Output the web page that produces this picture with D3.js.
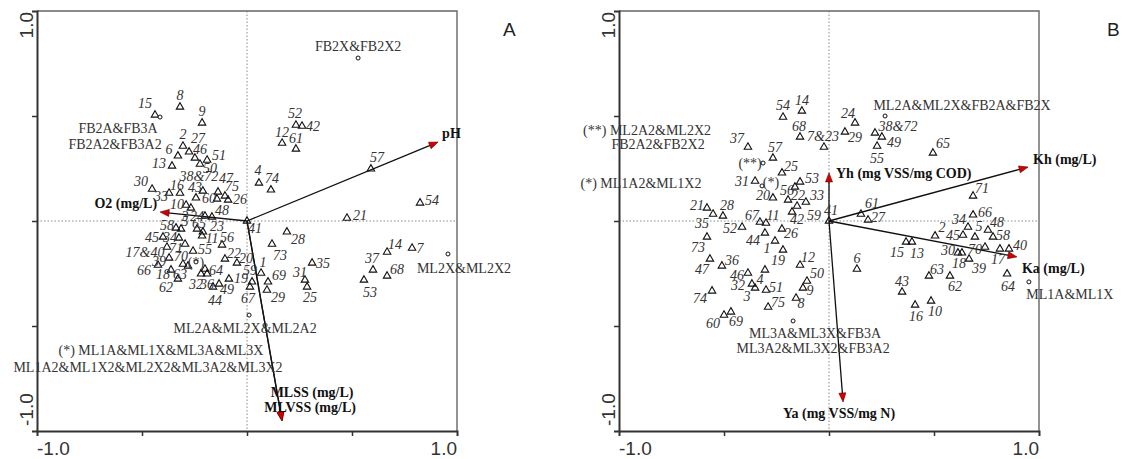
<!DOCTYPE html>
<html>
<head>
<meta charset="utf-8">
<script src="https://cdn.jsdelivr.net/npm/d3@7"></script>
<style>
  body { margin: 0; background: #fff; }
  svg { display: block; }
</style>
</head>
<body>
<svg id="chart" width="1125" height="459"></svg>
<script>
// ---------------- Panel A: sample scores (axis 1, axis 2) ----------------
const siteIdsA = ["15","8","9","2","27","6","46","51","50","13","30","33","16","38&72","43","47","75","26","60","10","3","48","24","58","5","65","23","45","34","11","56","17&40","71","55","22","39","70","66","64","18","63","32","36","49","44","19","62","20","59","67","1","69","29","73","28","35","31","25","37","14","7","68","53","57","54","21","52","42","12","61","4","74","41"];
const siteXA = [-0.438,-0.319,-0.214,-0.305,-0.276,-0.329,-0.248,-0.190,-0.224,-0.357,-0.452,-0.371,-0.319,-0.210,-0.243,-0.138,-0.105,-0.090,-0.143,-0.290,-0.267,-0.167,-0.200,-0.338,-0.314,-0.238,-0.210,-0.400,-0.324,-0.214,-0.119,-0.381,-0.295,-0.257,-0.105,-0.371,-0.305,-0.424,-0.200,-0.362,-0.281,-0.219,-0.190,-0.133,-0.162,-0.086,-0.329,-0.048,0.024,0.014,0.067,0.100,0.095,0.119,0.190,0.310,0.276,0.286,0.600,0.667,0.786,0.667,0.557,0.590,0.824,0.476,0.233,0.262,0.167,0.233,0.057,0.114,0];
const siteYA = [0.505,0.543,0.467,0.357,0.329,0.310,0.300,0.290,0.271,0.262,0.152,0.133,0.133,0.143,0.110,0.138,0.119,0.100,0.105,0.076,0.062,0.019,0.024,-0.033,-0.038,-0.038,-0.052,-0.076,-0.081,-0.071,-0.114,-0.124,-0.110,-0.143,-0.181,-0.176,-0.205,-0.210,-0.229,-0.233,-0.214,-0.252,-0.252,-0.300,-0.314,-0.276,-0.276,-0.200,-0.290,-0.314,-0.248,-0.290,-0.329,-0.110,-0.052,-0.200,-0.281,-0.314,-0.233,-0.148,-0.129,-0.262,-0.281,0.248,0.086,0.014,0.457,0.452,0.371,0.343,0.181,0.148,0];

// Panel A: treatment groups
const groupNamesA = ["FB2A&FB3A|FB2A2&FB3A2","FB2X&FB2X2","ML2X&ML2X2","ML2A&ML2X&ML2A2","(*)|(*) ML1A&ML1X&ML3A&ML3X|ML1A2&ML1X2&ML2X2&ML3A2&ML3X2"];
const groupXA = [-0.414,0.529,0.957,0.010,-0.243];
const groupYA = [0.495,0.776,-0.157,-0.448,-0.195];

// Panel A: environmental variables
const varNamesA = ["pH","O2 (mg/L)","MLSS (mg/L)","MLVSS (mg/L)"];
const varXA = [0.910,-0.414,0.167,0.167];
const varYA = [0.376,0.043,-0.952,-0.952];

// ---------------- Panel B: sample scores ----------------
const siteIdsB = ["54","14","68","7&23","37","57","25","31","53","56","20","22","33","59","42","21","35","28","52","67","11","44","26","1","19","73","47","36","46","4","32","3","51","74","75","60","69","12","50","9","8","41","24","29","38&72","49","55","65","71","61","27","34","66","2","45","5","48","58","15","13","30","18","70","39","17","40","64","6","63","62","43","16","10"];
const siteXB = [-0.219,-0.129,-0.138,-0.024,-0.386,-0.267,-0.224,-0.352,-0.138,-0.162,-0.267,-0.195,-0.110,-0.152,-0.176,-0.581,-0.552,-0.505,-0.414,-0.329,-0.300,-0.305,-0.224,-0.257,-0.219,-0.581,-0.567,-0.510,-0.386,-0.305,-0.367,-0.352,-0.300,-0.557,-0.290,-0.500,-0.467,-0.138,-0.105,-0.124,-0.157,0,0.124,0.076,0.219,0.252,0.229,0.495,0.686,0.152,0.186,0.662,0.686,0.505,0.638,0.695,0.757,0.781,0.367,0.395,0.614,0.633,0.743,0.667,0.814,0.857,0.848,0.133,0.476,0.576,0.348,0.410,0.486];
const siteYB = [0.495,0.524,0.400,0.352,0.352,0.300,0.229,0.190,0.186,0.162,0.110,0.100,0.090,0.071,0.043,0.062,0.033,0.024,-0.029,-0.005,-0.010,-0.057,-0.038,-0.095,-0.138,-0.076,-0.181,-0.214,-0.248,-0.233,-0.300,-0.319,-0.329,-0.333,-0.410,-0.448,-0.433,-0.210,-0.286,-0.319,-0.367,0,0.467,0.424,0.419,0.400,0.357,0.324,0.119,0.033,0.005,-0.029,0.029,-0.071,-0.067,-0.076,-0.043,-0.076,-0.100,-0.100,-0.152,-0.152,-0.124,-0.181,-0.133,-0.133,-0.252,-0.229,-0.262,-0.262,-0.338,-0.400,-0.381];

// Panel B: treatment groups
const groupNamesB = ["ML2A&ML2X&FB2A&FB2X","ML1A&ML1X","ML3A&ML3X&FB3A|ML3A2&ML3X2&FB3A2","(**)|(**) ML2A2&ML2X2|FB2A2&FB2X2","(*)|(*) ML1A2&ML1X2"];
const groupXB = [0.267,0.952,-0.171,-0.314,-0.319];
const groupYB = [0.500,-0.290,-0.476,0.276,0.167];

// Panel B: kinetic parameters
const varNamesB = ["Yh (mg VSS/mg COD)","Kh (mg/L)","Ka (mg/L)","Ya (mg VSS/mg N)"];
const varXB = [0,0.948,0.895,0.067];
const varYB = [0.229,0.257,-0.171,-0.862];

// Axis
const axisDomain = [-1, 1];
const minorTicks = [-0.5, 0, 0.5];
const endTickLabels = ["-1.0", "1.0"];

// ---------------- label placement (pixel offsets from the mark) ----------------
const siteLabelOffsetA = {
  "15":[-10,-12],"8":[0,-12],"9":[0,-12],"2":[0,-12],"27":[9,-14],"6":[-9,-7],"46":[5,-9],"51":[12,-5],
  "50":[10,4],"13":[-13,-3],"30":[-11,-8],"33":[-8,3],"16":[-3,-8],"38&72":[-4,-15],"43":[-1,-11],
  "47":[8,-14],"75":[7,-10],"26":[12,-1],"60":[-8,-1],"10":[-9,-1],"3":[-6,8],"48":[10,-7],"24":[-8,0],
  "58":[-9,-3],"5":[4,-8],"65":[2,-6],"23":[14,-6],"45":[-11,0],"34":[-9,-1],"11":[10,2],"56":[5,-8],
  "17&40":[-22,5],"71":[-9,4],"55":[12,-2],"22":[9,-6],"39":[-10,3],"70":[-2,-8],"66":[-14,5],"64":[11,1],
  "18":[-8,4],"63":[-8,8],"32":[-5,10],"36":[0,10],"49":[8,5],"44":[2,13],"19":[12,-1],"62":[-12,8],
  "20":[9,-5],"59":[-2,-12],"67":[-2,11],"1":[2,-11],"69":[11,-7],"29":[11,7],"73":[8,11],"28":[11,7],
  "35":[11,0],"31":[-5,-8],"25":[3,10],"37":[-1,-12],"14":[8,-8],"7":[8,0],"68":[10,-7],"53":[6,12],
  "57":[6,-12],"54":[12,-3],"21":[13,-3],"52":[-1,-12],"42":[11,0],"12":[0,-11],"61":[0,-11],"4":[-1,-13],
  "74":[1,-12],"41":[8,7]
};
const siteLabelOffsetB = {
  "54":[0,-12],"14":[0,-11],"68":[-1,-11],"7&23":[-1,-11],"37":[-11,-9],"57":[2,-11],"25":[9,-7],"31":[-13,0],
  "53":[12,-4],"56":[-8,3],"20":[-10,-3],"22":[10,-5],"33":[11,-7],"59":[17,9],"42":[5,7],"21":[-10,-3],
  "35":[-11,9],"28":[4,-11],"52":[-12,1],"67":[-8,-7],"11":[7,-8],"44":[-12,7],"26":[9,4],"1":[-8,7],
  "19":[-5,10],"73":[-9,10],"47":[-8,10],"36":[10,-6],"46":[-11,2],"4":[-5,9],"32":[-14,1],"3":[-8,8],
  "51":[10,-3],"74":[-12,7],"75":[10,-5],"60":[-11,8],"69":[5,9],"12":[8,-8],"50":[10,-8],"9":[7,2],
  "8":[5,5],"41":[2,-11],"24":[-7,-10],"29":[10,5],"38&72":[23,-7],"49":[12,5],"55":[0,12],"65":[10,-10],
  "71":[9,-8],"61":[11,-11],"27":[10,-3],"34":[-9,-8],"66":[12,-3],"2":[7,-9],"45":[-10,0],"5":[4,-11],
  "48":[9,-8],"58":[10,-2],"15":[-9,10],"13":[5,11],"30":[-10,-3],"18":[-3,10],"70":[-10,2],"39":[10,9],
  "17":[-2,10],"40":[11,-4],"64":[1,12],"6":[0,-11],"63":[8,-7],"62":[5,10],"43":[0,-11],"16":[1,11],"10":[4,10]
};
const groupLabelOffsetA = [
  [[-42,11],[-45,27]], [[0,-12]], [[16,14]], [[-4,13]], [[0,0],[-35,88],[-48,105]]
];
const groupLabelOffsetB = [
  [[77,-11]], [[41,12]], [[22,12],[20,27]], [[-13,0],[-116,-33],[-105,-19]], [[9,-4],[-121,-3]]
];
// [anchor, dx, dy] for the variable names (baseline position)
const varLabelPlaceA = [["start",4,-4],["end",-3,-4],["middle",30,-24],["middle",28,-9]];
const varLabelPlaceB = [["start",7,5],["start",5,-3],["start",5,16],["middle",-4,16]];

// ---------------- drawing ----------------
const svg = d3.select("#chart");
const SERIF = "'Liberation Serif','Times New Roman',serif";
const SANS = "'Liberation Sans',Arial,sans-serif";
const SIZE = 420, TOP = 11;

const panels = [
  { letter: "A", left: 37, letterX: 503,
    ids: siteIdsA, sx: siteXA, sy: siteYA, offs: siteLabelOffsetA,
    gNames: groupNamesA, gx: groupXA, gy: groupYA, gOffs: groupLabelOffsetA,
    vNames: varNamesA, vx: varXA, vy: varYA, vPlace: varLabelPlaceA },
  { letter: "B", left: 619, letterX: 1107,
    ids: siteIdsB, sx: siteXB, sy: siteYB, offs: siteLabelOffsetB,
    gNames: groupNamesB, gx: groupXB, gy: groupYB, gOffs: groupLabelOffsetB,
    vNames: varNamesB, vx: varXB, vy: varYB, vPlace: varLabelPlaceB }
];

panels.forEach(p => {
  const x = d3.scaleLinear().domain(axisDomain).range([p.left, p.left + SIZE]);
  const y = d3.scaleLinear().domain(axisDomain).range([TOP + SIZE, TOP]);
  const g = svg.append("g");

  // zero reference lines
  g.append("line").attr("x1", x(0)).attr("x2", x(0)).attr("y1", y(1)).attr("y2", y(-1))
    .attr("stroke", "#8a8a8a").attr("stroke-width", 1).attr("stroke-dasharray", "1.5,2");
  g.append("line").attr("x1", x(-1)).attr("x2", x(1)).attr("y1", y(0)).attr("y2", y(0))
    .attr("stroke", "#8a8a8a").attr("stroke-width", 1).attr("stroke-dasharray", "1.5,2");

  // frame: light top/right, dark bottom/left
  g.append("path").attr("d", `M${x(-1)},${y(1)}H${x(1)}V${y(-1)}`)
    .attr("fill", "none").attr("stroke", "#666").attr("stroke-width", 1.4);

  const xAxis = d3.axisBottom(x).tickValues(minorTicks).tickSize(5).tickFormat("");
  const yAxis = d3.axisLeft(y).tickValues(minorTicks).tickSize(5).tickFormat("");
  const gx = g.append("g").attr("transform", `translate(0,${y(-1)})`).call(xAxis);
  const gy = g.append("g").attr("transform", `translate(${x(-1)},0)`).call(yAxis);
  [gx, gy].forEach(a => {
    a.select(".domain").attr("stroke", "#333").attr("stroke-width", 2);
    a.selectAll(".tick line").attr("stroke", "#333").attr("stroke-width", 1.5);
  });

  // end labels on the axes
  const tickStyle = t => t.attr("font-family", SANS).attr("font-size", 19).attr("fill", "#333");
  g.append("text").attr("x", x(-1)).attr("y", y(-1) + 24).attr("text-anchor", "start")
    .text(endTickLabels[0]).call(tickStyle);
  g.append("text").attr("x", x(1)).attr("y", y(-1) + 24).attr("text-anchor", "end")
    .text(endTickLabels[1]).call(tickStyle);
  g.append("text").attr("transform", `translate(${x(-1) - 4},${y(1) + 1}) rotate(-90)`)
    .attr("text-anchor", "end").text(endTickLabels[1]).call(tickStyle);
  g.append("text").attr("transform", `translate(${x(-1) - 4},${y(-1) - 5}) rotate(-90)`)
    .attr("text-anchor", "start").text(endTickLabels[0]).call(tickStyle);

  // panel letter
  g.append("text").attr("x", p.letterX).attr("y", 36).attr("font-family", SANS)
    .attr("font-size", 19).attr("fill", "#222").text(p.letter);

  // variable vectors
  p.vNames.forEach((name, i) => {
    const x0 = x(0), y0 = y(0), x1 = x(p.vx[i]), y1 = y(p.vy[i]);
    const len = Math.hypot(x1 - x0, y1 - y0), ux = (x1 - x0) / len, uy = (y1 - y0) / len;
    const L = 9, W = 3.5;
    g.append("line").attr("x1", x0).attr("y1", y0).attr("x2", x1 - ux * L * 0.6).attr("y2", y1 - uy * L * 0.6)
      .attr("stroke", "#111").attr("stroke-width", 1.3);
    const bx = x1 - ux * L, by = y1 - uy * L;
    g.append("path")
      .attr("d", `M${x1},${y1}L${bx - uy * W},${by + ux * W}L${bx + uy * W},${by - ux * W}Z`)
      .attr("fill", "#d40000").attr("stroke", "#5a0000").attr("stroke-width", 0.6);
    const [anchor, dx, dy] = p.vPlace[i];
    g.append("text").attr("x", x1 + dx).attr("y", y1 + dy).attr("text-anchor", anchor)
      .attr("font-family", SERIF).attr("font-weight", "bold").attr("font-size", 14)
      .attr("fill", "#111").text(name);
  });

  // sample triangles
  const tri = d3.symbol().type(d3.symbolTriangle).size(24);
  p.ids.forEach((id, i) => {
    g.append("path").attr("d", tri())
      .attr("transform", `translate(${x(p.sx[i])},${y(p.sy[i])})`)
      .attr("fill", "none").attr("stroke", "#111").attr("stroke-width", 1.1);
  });

  // sample numbers
  p.ids.forEach((id, i) => {
    const o = p.offs[id] || [6, -8];
    g.append("text").attr("x", x(p.sx[i]) + o[0]).attr("y", y(p.sy[i]) + o[1])
      .attr("dy", "0.35em").attr("text-anchor", "middle")
      .attr("font-family", SERIF).attr("font-style", "italic").attr("font-size", 14)
      .attr("fill", "#333").text(id);
  });

  // treatment group centroids and their names
  p.gNames.forEach((name, i) => {
    const cx = x(p.gx[i]), cy = y(p.gy[i]);
    name.split("|").forEach((line, k) => {
      const o = p.gOffs[i][k];
      g.append("text").attr("x", cx + o[0]).attr("y", cy + o[1]).attr("dy", "0.35em")
        .attr("text-anchor", "middle").attr("font-family", SERIF).attr("font-size", 14)
        .attr("fill", "#333").text(line);
    });
    g.append("circle").attr("cx", cx).attr("cy", cy).attr("r", 2)
      .attr("fill", "#fff").attr("stroke", "#111").attr("stroke-width", 1);
  });
});
</script>
</body>
</html>
